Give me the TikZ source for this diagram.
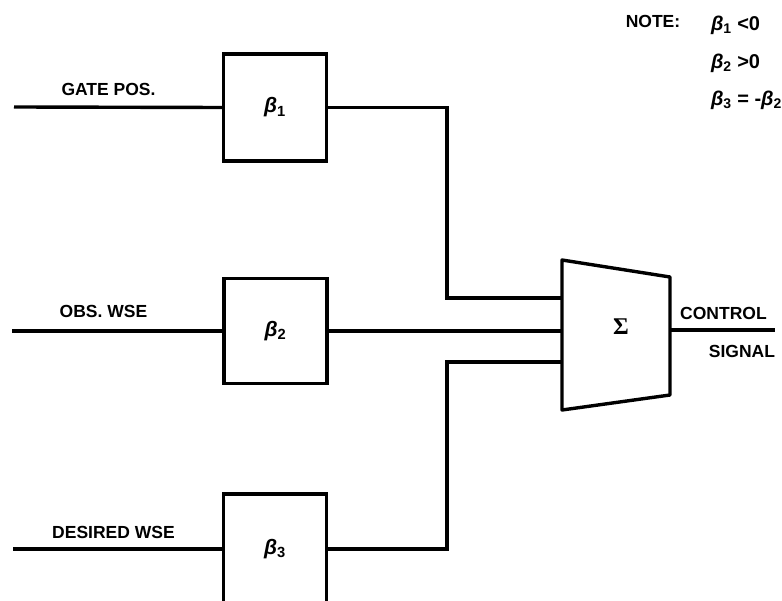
\documentclass[tikz,border=0pt]{standalone}
\usepackage{amsmath,bm}
\usepackage{fontspec}
\setmainfont{Liberation Sans}
\newfontfamily\sigfont{Liberation Serif}
\usepackage{tikz}
\usetikzlibrary{positioning}

\newcommand{\bta}[1]{\textit{β}\textsubscript{#1}}

\begin{document}
\begin{tikzpicture}[x=1pt,y=-1pt,line width=3.4pt,
  every node/.style={font=\bfseries\fontsize{17.5}{20}\selectfont},
  gain/.style={draw,rectangle,minimum width=103pt,inner sep=0pt,
    font=\bfseries\fontsize{21}{24}\selectfont},
  lbl/.style={font=\bfseries\fontsize{17.5}{20}\selectfont},
  cond/.style={anchor=west,font=\bfseries\fontsize{20}{22}\selectfont}]
\useasboundingbox (0,0) rectangle (782,601);
% gain blocks
\node[gain,minimum height=107pt] (b1) at (275,107.5) {\bta{1}};
\node[gain,minimum height=105pt] (b2) at (275.5,331) {\bta{2}};
\node[gain,minimum height=110pt] (b3) at (275,549) {\bta{3}};
% summing block
\coordinate (s1) at (562,298);
\coordinate (s2) at (562,331);
\coordinate (s3) at (562,362);
\draw[line join=round] (562,260) -- (670,277) -- (670,395) -- (562,410) -- cycle;
\node[font=\sigfont\bfseries\fontsize{24}{26}\selectfont] (sum) at (621,327) {Σ};
\coordinate (so) at (670,330);
\coordinate (out) at (775,330);
% inputs
\coordinate (i1) at (14,107);
\coordinate (i2) at (12,331);
\coordinate (i3) at (13,549);
\draw (i1) -- (b1.west);
\draw (i2) -- (b2.west);
\draw (i3) -- (b3.west);
\node[lbl] (l1) at (108.5,89) {GATE POS.};
\node[lbl] (l2) at (103.5,311) {OBS. WSE};
\node[lbl] (l3) at (113.5,532) {DESIRED WSE};
% into the sum
\coordinate (j1) at (447,298);
\coordinate (j3) at (447,362);
\draw[line join=miter] (b1.east) -| (j1) -- (s1);
\draw (b2.east) -- (s2);
\draw[line join=miter] (b3.east) -| (j3) -- (s3);
\draw (so) -- (out);
\node[lbl] (c1) at (723.5,313) {CONTROL};
\node[lbl] (c2) at (742,351) {SIGNAL};
% note
\node[lbl] (note) at (653,21) {NOTE:};
\node[cond] (n1) at (706,25) {\bta{1} \textless0};
\node[cond] (n2) at (706,63) {\bta{2} \textgreater0};
\node[cond] (n3) at (706,100) {\bta{3} = -\bta{2}};
\end{tikzpicture}
\end{document}
